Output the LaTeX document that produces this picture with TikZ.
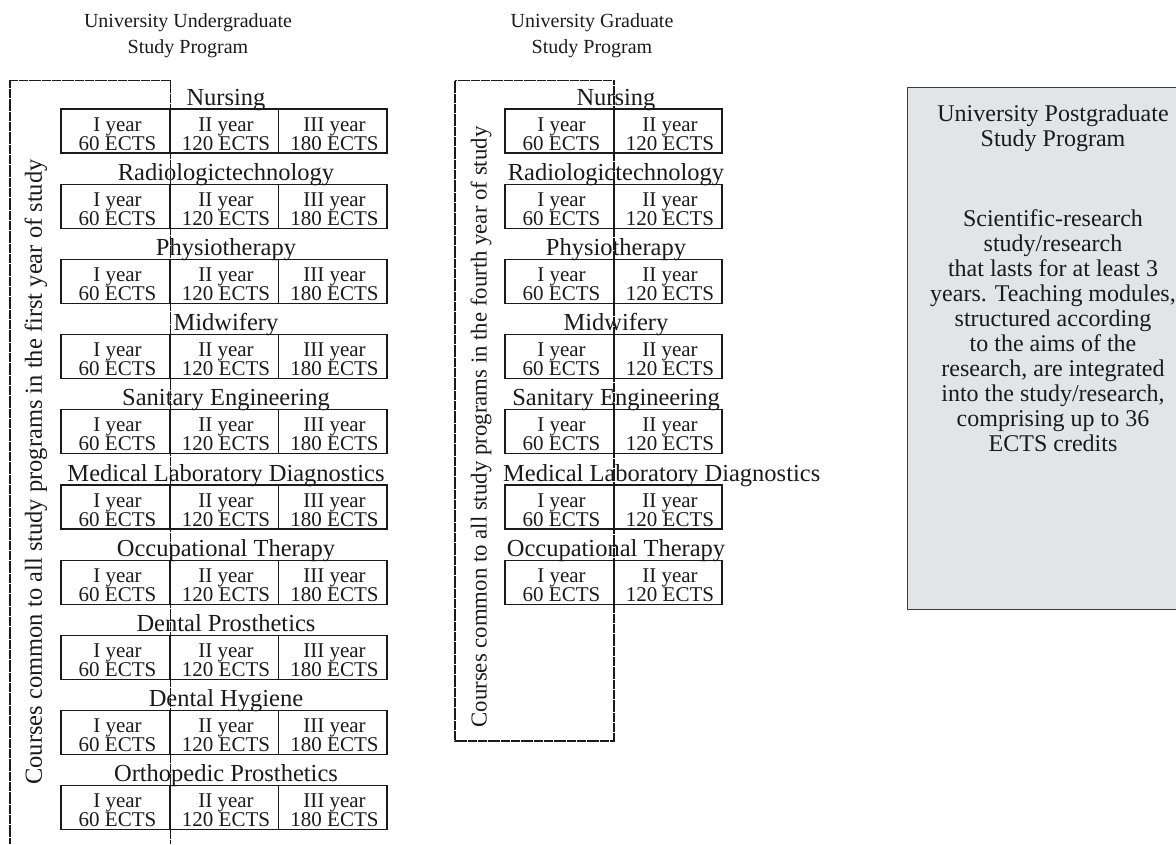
\documentclass[tikz,border=0pt]{standalone}
\usepackage{fontspec}
\setmainfont{Liberation Serif}
\definecolor{ink}{HTML}{1A1A1A}
\definecolor{boxgray}{HTML}{E3E4E6}
\definecolor{boxline}{HTML}{3C3C3C}
\begin{document}
\begin{tikzpicture}[x=1pt,y=-1pt,
  cellbox/.style={draw=ink,line width=1.3pt,inner sep=0pt,minimum height=44pt},
  celltxt/.style={anchor=base,inner sep=0pt,font=\fontsize{21}{21}\selectfont,text=ink},
  progtitle/.style={anchor=base,inner sep=0pt,font=\fontsize{24.5}{25}\selectfont,text=ink},
  headtxt/.style={anchor=base,inner sep=0pt,font=\fontsize{20}{20}\selectfont,text=ink},
  sidetxt/.style={rotate=90,inner sep=0pt,text=ink},
  pgtxt/.style={anchor=base,inner sep=0pt,font=\fontsize{24}{25}\selectfont,text=ink},
  dashframe/.style={draw=ink,line width=1.9pt,dash pattern=on 3pt off 0.3pt}]
\useasboundingbox (0,0) rectangle (1176,844);

% headers
\node[headtxt] (uh1) at (188,27) {University Undergraduate};
\node[headtxt] (uh2) at (188,53) {Study Program};
\node[headtxt] (gh1) at (592,27) {University Graduate};
\node[headtxt] (gh2) at (592,53) {Study Program};

% undergraduate programs
\foreach \t [count=\i from 0] in {Nursing,Radiologictechnology,Physiotherapy,Midwifery,Sanitary Engineering,Medical Laboratory Diagnostics,Occupational Therapy,Dental Prosthetics,Dental Hygiene,Orthopedic Prosthetics}{
  \pgfmathsetmacro\yt{109+75.2*\i}
  \pgfmathsetmacro\yc{\yt+22}
  \node[progtitle] (ut\i) at (226,{\yt-4}) {\t};
  \node[cellbox,minimum width=109pt] (u\i-a) at (115.5,\yc) {};
  \node[cellbox,minimum width=108.5pt] (u\i-b) at (224.25,\yc) {};
  \node[cellbox,minimum width=108.5pt] (u\i-c) at (332.75,\yc) {};
  \node[celltxt] (u\i-a1) at (117.5,{\yt+22}) {I year};
  \node[celltxt] (u\i-a2) at (117.5,{\yt+41}) {60 ECTS};
  \node[celltxt] (u\i-b1) at (226,{\yt+22}) {II year};
  \node[celltxt] (u\i-b2) at (226,{\yt+41}) {120 ECTS};
  \node[celltxt] (u\i-c1) at (334.5,{\yt+22}) {III year};
  \node[celltxt] (u\i-c2) at (334.5,{\yt+41}) {180 ECTS};
}

% graduate programs
\foreach \t [count=\i from 0] in {Nursing,Radiologictechnology,Physiotherapy,Midwifery,Sanitary Engineering,Medical Laboratory Diagnostics,Occupational Therapy}{
  \pgfmathsetmacro\yt{109+75.2*\i}
  \pgfmathsetmacro\yc{\yt+22}
  \ifnum\i=5
    \node[progtitle,anchor=base west] (gt\i) at (503,{\yt-4}) {\t};
  \else
    \node[progtitle] (gt\i) at (616,{\yt-4}) {\t};
  \fi
  \node[cellbox,minimum width=109pt] (g\i-a) at (559.5,\yc) {};
  \node[cellbox,minimum width=108pt] (g\i-b) at (668,\yc) {};
  \node[celltxt] (g\i-a1) at (561.5,{\yt+22}) {I year};
  \node[celltxt] (g\i-a2) at (561.5,{\yt+41}) {60 ECTS};
  \node[celltxt] (g\i-b1) at (670,{\yt+22}) {II year};
  \node[celltxt] (g\i-b2) at (670,{\yt+41}) {120 ECTS};
}

% common-course frames
\draw[dashframe] (10,844) -- (10,80.5) -- (170.5,80.5) -- (170.5,844);
\draw[dashframe] (455,80.5) rectangle (614,741);
\node[sidetxt,font=\fontsize{24.5}{25}\selectfont] (ucommon) at (36,472) {Courses common to all study programs in the first year of study};
\node[sidetxt,font=\fontsize{22.8}{24}\selectfont] (gcommon) at (481,427) {Courses common to all study programs in the fourth year of study};

% postgraduate box
\node[draw=boxline,fill=boxgray,line width=1.2pt,anchor=north west,minimum width=292pt,minimum height=522pt,inner sep=0pt] (pg) at (907,87) {};
\foreach \l/\yy [count=\k] in {University Postgraduate/121,Study Program/146,Scientific-research/226,study\slash research/251,that lasts for at least 3/276,{years. Teaching modules,}/301,structured according/326,to the aims of the/351,{research, are integrated}/376,{into the study\slash research,}/401,comprising up to 36/426,ECTS credits/451}{
  \node[pgtxt] (pg\k) at (1053,\yy) {\l};
}
\end{tikzpicture}
\end{document}
